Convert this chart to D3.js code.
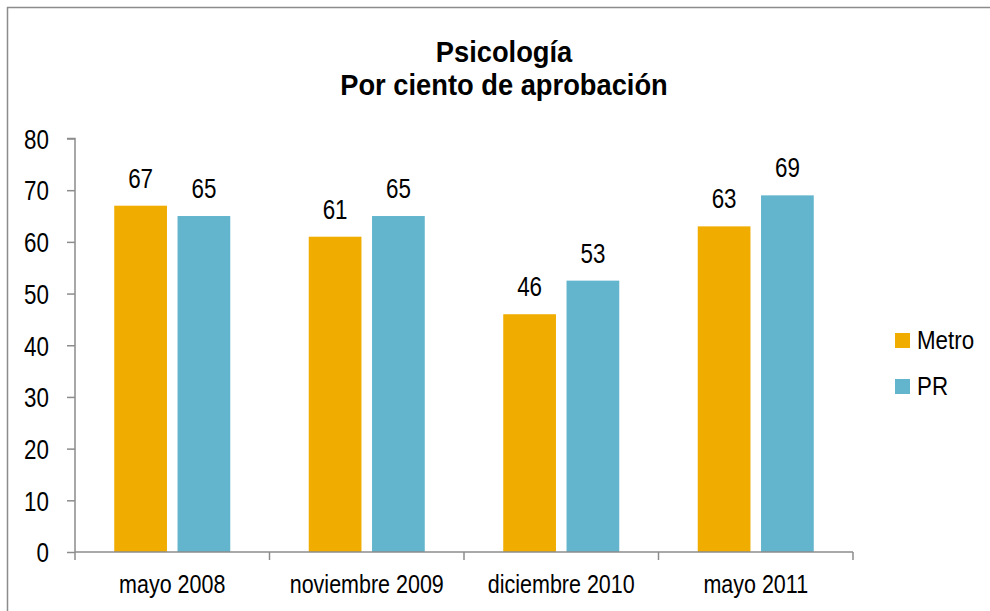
<!DOCTYPE html>
<html><head><meta charset="utf-8">
<script src="https://cdn.jsdelivr.net/npm/d3@7"></script>
<style>
html,body{margin:0;padding:0;background:#fff;}
svg{display:block;}
text{font-family:"Liberation Sans Narrow","Arial Narrow","Liberation Sans",Arial,sans-serif;fill:#000;}
</style></head>
<body>
<script>
const categories = ["mayo 2008", "noviembre 2009", "diciembre 2010", "mayo 2011"];
const seriesNames = ["Metro", "PR"];
const metro = [67, 61, 46, 63];
const pr = [65, 65, 52.5, 69];
const yTicks = [0, 10, 20, 30, 40, 50, 60, 70, 80];
const titleLines = ["Psicología", "Por ciento de aprobación"];
const colors = ["#F0AD00", "#62B5CC"];

const W = 990, H = 611;
const svg = d3.select("body").append("svg").attr("width", W).attr("height", H);

svg.append("rect").attr("x", 7.5).attr("y", 7.5).attr("width", W + 10).attr("height", H + 10)
  .attr("fill", "#fff").attr("stroke", "#8c8c8c").attr("stroke-width", 1.5);

const x0 = 75, x1 = 853, yBase = 552, yTop = 138.5;
const x = d3.scaleBand().domain(categories).range([x0, x1]).paddingInner(0).paddingOuter(0);
const y = d3.scaleLinear().domain([0, 80]).range([yBase, yTop]);
const sub = d3.scaleBand().domain(seriesNames).range([0, x.bandwidth()]).paddingInner(0.167).paddingOuter(0.62);

const tr = (px, py, s) => `translate(${px},${py}) scale(${s},1)`;

const data = categories.map((c, i) => ({cat: c, vals: [{s: "Metro", v: metro[i]}, {s: "PR", v: pr[i]}]}));

// bars
const g = svg.append("g").selectAll("g").data(data).join("g")
  .attr("transform", d => `translate(${x(d.cat)},0)`);
g.selectAll("rect").data(d => d.vals).join("rect")
  .attr("x", d => sub(d.s)).attr("width", sub.bandwidth())
  .attr("y", d => y(d.v)).attr("height", d => yBase - y(d.v))
  .attr("fill", (d, i) => colors[i]);
g.selectAll("text.lbl").data(d => d.vals).join("text").attr("class", "lbl")
  .attr("transform", d => tr(sub(d.s) + sub.bandwidth() / 2, y(d.v) - 18, 0.8))
  .attr("text-anchor", "middle").style("font-size", "28px")
  .text(d => Math.round(d.v));

// y axis
const yAxis = d3.axisLeft(y).tickValues(yTicks).tickSize(8).tickPadding(18);
const ya = svg.append("g").attr("transform", `translate(${x0},0)`).call(yAxis);
ya.select(".domain").attr("stroke", "#8c8c8c").attr("stroke-width", 1.5).attr("d", `M-8,${yTop}H0V${yBase}`);
ya.selectAll(".tick line").attr("stroke", "#8c8c8c").attr("stroke-width", 1.5);
ya.selectAll(".tick text").attr("x", null).attr("dy", "0.35em")
  .attr("transform", tr(-26, 0, 0.8))
  .style("font-size", "28px").attr("fill", "#000");

// x axis
const xa = svg.append("g").attr("transform", `translate(0,${yBase})`);
xa.append("line").attr("x1", x0).attr("x2", x1).attr("y1", 0).attr("y2", 0)
  .attr("stroke", "#8c8c8c").attr("stroke-width", 1.5);
const bounds = categories.map(c => x(c)).concat([x1]);
xa.selectAll("line.tk").data(bounds).join("line").attr("class", "tk")
  .attr("x1", d => d).attr("x2", d => d).attr("y1", 0).attr("y2", 8)
  .attr("stroke", "#8c8c8c").attr("stroke-width", 1.5);
xa.selectAll("text").data(categories).join("text")
  .attr("transform", d => tr(x(d) + x.bandwidth() / 2, 41, 0.86))
  .attr("text-anchor", "middle").style("font-size", "25px").text(d => d);

// title
svg.append("g").selectAll("text").data(titleLines).join("text")
  .attr("transform", (d, i) => tr(504, 62 + i * 33, 0.91))
  .attr("text-anchor", "middle").style("font-size", "30px").style("font-weight", "bold")
  .text(d => d);

// legend
const lg = svg.append("g").selectAll("g").data(seriesNames).join("g")
  .attr("transform", (d, i) => `translate(895,${333 + i * 46})`);
lg.append("rect").attr("width", 15).attr("height", 15).attr("fill", (d, i) => colors[i]);
lg.append("text").attr("transform", tr(22, 16, 0.86)).style("font-size", "26px").text(d => d);
</script>
</body></html>
